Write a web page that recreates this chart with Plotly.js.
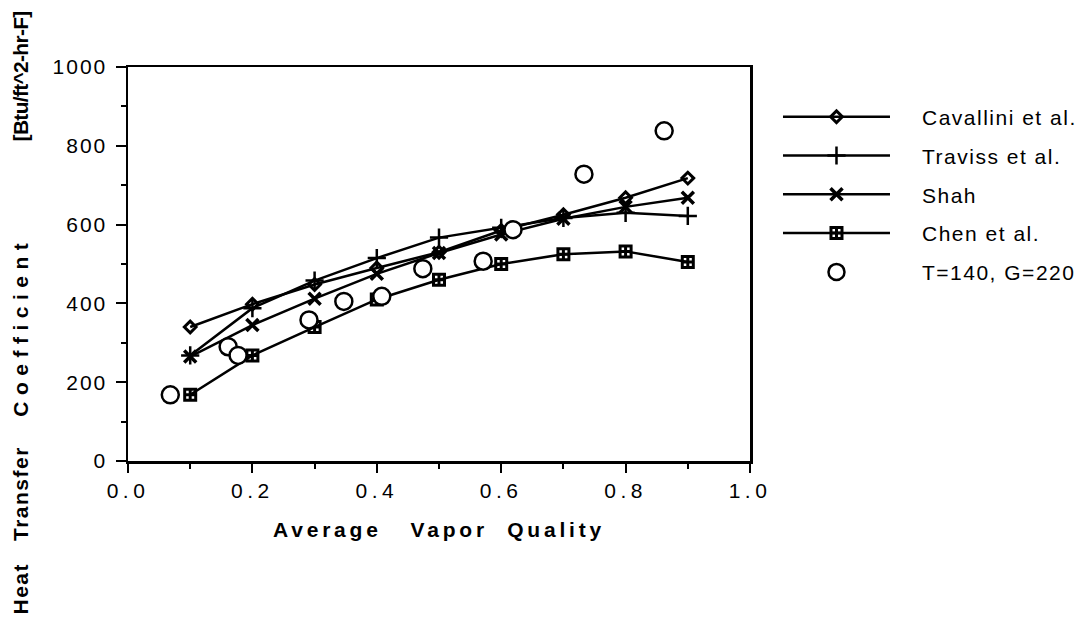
<!DOCTYPE html>
<html>
<head>
<meta charset="utf-8">
<script src="https://cdn.plot.ly/plotly-3.0.1.min.js"></script>
<style>
html,body{margin:0;padding:0;background:#fff;}
#chart{width:1087px;height:621px;}
#chart .xtick text{letter-spacing:4.5px;}
#chart .ytick text{letter-spacing:2px;}
#chart .xtitle{letter-spacing:3.8px;}
#chart .legendtext{letter-spacing:1.5px;transform:translateX(27px);}
#chart .legend .scrollbox{clip-path:none !important;}
#chart .annotation-text{letter-spacing:1.5px;}
</style>
</head>
<body>
<div id="chart"></div>
<script>
// Model curves (Average Vapor Quality)
var quality = [0.1, 0.2, 0.3, 0.4, 0.5, 0.6, 0.7, 0.8, 0.9];
var cavallini = [340, 398, 448, 490, 530, 585, 625, 668, 718];
var traviss   = [268, 388, 458, 515, 567, 592, 617, 630, 622];
var shah      = [265, 345, 412, 475, 528, 575, 615, 645, 668];
var chen      = [168, 268, 340, 410, 460, 500, 525, 532, 505];
// Experimental data T=140, G=220
var expX = [0.068, 0.161, 0.177, 0.291, 0.347, 0.408, 0.474, 0.571, 0.619, 0.733, 0.862];
var expY = [168, 290, 268, 358, 405, 418, 488, 507, 587, 728, 838];
var xTicks = [0.0, 0.2, 0.4, 0.6, 0.8, 1.0];
var yTicks = [0, 200, 400, 600, 800, 1000];

var FONT = 'Liberation Sans, Arial, Helvetica, sans-serif';
function lineTrace(name, y, marker, group) {
  return {x: quality, y: y, name: name, type: 'scatter', mode: 'lines+markers',
    legendgroup: group, line: {color: '#000', width: 2.5}, marker: marker};
}
var traces = [
  lineTrace('Cavallini et al.', cavallini, {symbol: 'diamond-open', size: 9, color: '#000', line: {width: 3, color: '#000'}}, 'a'),
  lineTrace('Traviss et al.', traviss, {symbol: 'cross-thin', size: 13, color: '#000', line: {width: 2.5, color: '#000'}}, 'b'),
  lineTrace('Shah', shah, {symbol: 'x-thin', size: 12, color: '#000', line: {width: 3.5, color: '#000'}}, 'c'),
  lineTrace('Chen et al.', chen, {symbol: 'square-cross-open', size: 11, color: '#000', line: {width: 3, color: '#000'}}, 'd'),
  {x: expX, y: expY, name: 'T=140, G=220', type: 'scatter', mode: 'markers', legendgroup: 'e',
    marker: {symbol: 'circle', size: 17, color: '#fff', line: {width: 2.5, color: '#000'}}}
];

function sp(n) { return new Array(n + 1).join('\u00a0'); }
var yTitle = 'Heat' + sp(3) + 'Transfer' + sp(4) +
  '<span style="letter-spacing:6.5px">Coefficient</span>' + sp(13) +
  '<span style="letter-spacing:-0.7px;font-weight:bold">[Btu/ft^2-hr-F]</span>';

var layout = {
  width: 1087, height: 621,
  margin: {l: 128, r: 337, t: 67, b: 160},
  paper_bgcolor: '#fff', plot_bgcolor: '#fff',
  font: {family: FONT, color: '#000', size: 21},
  showlegend: true,
  legend: {x: 1.045, y: 0.925, xanchor: 'left', yanchor: 'top', traceorder: 'grouped',
    tracegroupgap: 8.5, itemwidth: 107, font: {family: FONT, size: 21, color: '#000'},
    bgcolor: 'rgba(0,0,0,0)'},
  xaxis: {range: [0, 1], tickvals: xTicks, ticktext: xTicks.map(function(v){return v.toFixed(1);}),
    showgrid: false, zeroline: false, showline: true, linewidth: 2.5, linecolor: '#000', mirror: true,
    ticks: 'outside', ticklen: 9, tickwidth: 2, tickcolor: '#000',
    minor: {dtick: 0.1, tick0: 0, ticks: 'outside', ticklen: 5, tickwidth: 2, tickcolor: '#000', showgrid: false},
    tickfont: {family: FONT, size: 21},
    title: {text: 'Average' + sp(3) + 'Vapor' + sp(2) + 'Quality', font: {family: FONT, size: 21, weight: 'bold'}, standoff: 22}},
  yaxis: {range: [0, 1000], tickvals: yTicks,
    showgrid: false, zeroline: false, showline: true, linewidth: 2.5, linecolor: '#000', mirror: true,
    ticks: 'outside', ticklen: 10, tickwidth: 2, tickcolor: '#000',
    minor: {dtick: 100, tick0: 0, ticks: 'outside', ticklen: 5, tickwidth: 2, tickcolor: '#000', showgrid: false},
    tickfont: {family: FONT, size: 21}, ticklabelstandoff: 4},
  annotations: [{
    text: yTitle,
    xref: 'paper', yref: 'paper', x: -0.1736, y: 0.3744, xanchor: 'center', yanchor: 'middle',
    textangle: -90, showarrow: false, font: {family: FONT, size: 21, weight: 'bold', color: '#000'}
  }]
};
Plotly.newPlot('chart', traces, layout, {displayModeBar: false, staticPlot: true});
</script>
</body>
</html>
